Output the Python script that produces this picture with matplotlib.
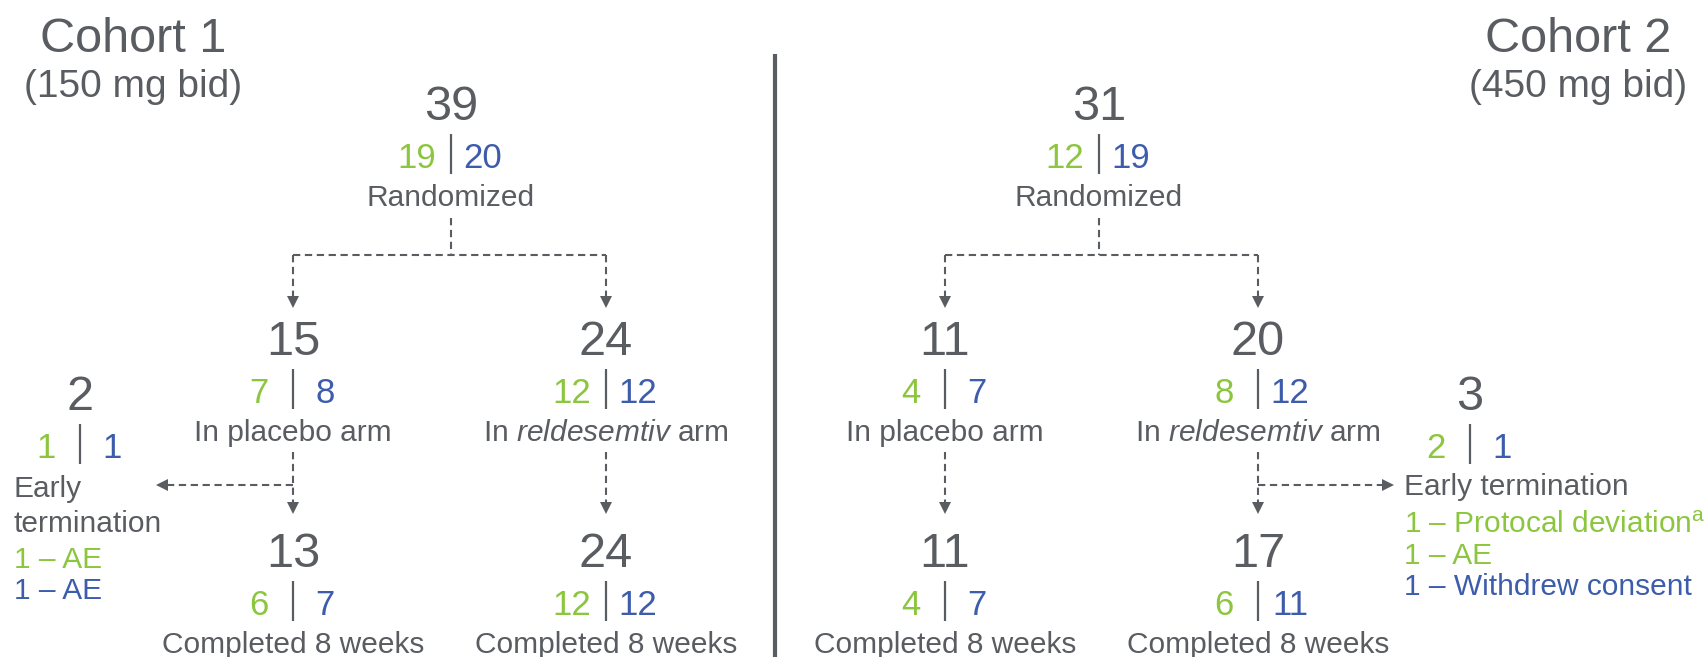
import matplotlib
matplotlib.use("Agg")
import matplotlib.pyplot as plt

plt.rcParams["font.family"] = ["Liberation Sans", "DejaVu Sans"]
plt.rcParams["mathtext.fontset"] = "custom"
plt.rcParams["mathtext.rm"] = "Liberation Sans"
plt.rcParams["mathtext.it"] = "Liberation Sans:italic"

# data
cohorts = ["Cohort 1", "Cohort 2"]
doses = ["(150 mg bid)", "(450 mg bid)"]

rand_n = [39, 31]
rand_green = [19, 12]
rand_blue = [20, 19]

placebo_n = [15, 11]
placebo_green = [7, 4]
placebo_blue = [8, 7]

active_n = [24, 20]
active_green = [12, 8]
active_blue = [12, 12]

done_placebo_n = [13, 11]
done_placebo_green = [6, 4]
done_placebo_blue = [7, 7]

done_active_n = [24, 17]
done_active_green = [12, 6]
done_active_blue = [12, 11]

et_n = [2, 3]
et_green = [1, 2]
et_blue = [1, 1]
et_labels = [["Early", "termination"], ["Early termination"]]
et_reasons = [["1 – AE", "1 – AE"],
              ["1 – Protocal deviation$^{\\mathrm{a}}$", "1 – AE", "1 – Withdrew consent"]]
et_reason_group = [["g", "b"], ["g", "g", "b"]]

placebo_label = "In placebo arm"
active_label = "In $\\it{reldesemtiv}$ arm"
rand_label = "Randomized"
done_label = "Completed 8 weeks"

GRAY = "#595c61"
GREEN = "#8cc63f"
BLUE = "#3d5cab"

# layout (pixel coords)
W, H = 1707, 657
top_x = [451, 1099]
arm_x = [[293, 606], [945, 1258]]
et_side = [0, 1]          # which arm the early termination leaves from
et_node_x = [80, 1470]
et_text_x = [14, 1404]
et_tip_x = [157, 1393]
title_x = [133, 1578]

fig = plt.figure(figsize=(W / 100, H / 100), dpi=100)
ax = fig.add_axes([0, 0, 1, 1])
ax.set_xlim(0, W)
ax.set_ylim(H, 0)
ax.axis("off")


def node(x, y, total, g, b, label=None, big=35):
    # y is the baseline of the big number
    ax.text(x, y, str(total), fontsize=big, color=GRAY, ha="center", va="baseline")
    ys = y + 48
    ax.text(x - 34, ys, str(g), fontsize=25, color=GREEN, ha="center", va="baseline")
    ax.text(x + 32, ys, str(b), fontsize=25, color=BLUE, ha="center", va="baseline")
    ax.plot([x, x], [ys - 34, ys + 6], color=GRAY, lw=1.6, solid_capstyle="butt")
    if label is not None:
        ax.text(x, ys + 38, label, fontsize=21.5, color=GRAY, ha="center", va="baseline")


def dashed(xs, ys):
    ax.plot(xs, ys, color=GRAY, lw=1.5, ls=(0, (3.5, 2.2)))


def head(x, y, d):
    mk = {"down": "v", "left": "<", "right": ">"}[d]
    dx = {"down": 0, "left": 5, "right": -5}[d]
    dy = {"down": -5, "left": 0, "right": 0}[d]
    ax.plot(x + dx, y + dy, marker=mk, ms=9, color=GRAY, mec=GRAY, mew=0)


for i in range(2):
    ax.text(title_x[i], 52, cohorts[i], fontsize=35, color=GRAY, ha="center", va="baseline")
    ax.text(title_x[i], 97, doses[i], fontsize=28, color=GRAY, ha="center", va="baseline")

    node(top_x[i], 120, rand_n[i], rand_green[i], rand_blue[i], rand_label)
    xl, xr = arm_x[i]
    dashed([top_x[i], top_x[i]], [218, 255])
    dashed([xl, xr], [255, 255])
    for xa in (xl, xr):
        dashed([xa, xa], [255, 302])
        head(xa, 307, "down")

    node(xl, 355, placebo_n[i], placebo_green[i], placebo_blue[i], placebo_label)
    node(xr, 355, active_n[i], active_green[i], active_blue[i], active_label)

    for xa in (xl, xr):
        dashed([xa, xa], [452, 508])
        head(xa, 513, "down")

    node(xl, 567, done_placebo_n[i], done_placebo_green[i], done_placebo_blue[i], done_label)
    node(xr, 567, done_active_n[i], done_active_green[i], done_active_blue[i], done_label)

    # early termination branch
    xs = arm_x[i][et_side[i]]
    d = "left" if et_tip_x[i] < xs else "right"
    off = 5 if d == "left" else -5
    dashed([xs, et_tip_x[i] + off], [485, 485])
    head(et_tip_x[i], 485, d)

    node(et_node_x[i], 410, et_n[i], et_green[i], et_blue[i])
    y = 497 if i == 0 else 495
    for line in et_labels[i]:
        ax.text(et_text_x[i], y, line, fontsize=21.5, color=GRAY, ha="left", va="baseline")
        y += 35
    y = 568 if i == 0 else 533
    for txt, grp in zip(et_reasons[i], et_reason_group[i]):
        ax.text(et_text_x[i], y, txt, fontsize=21.5, color=GREEN if grp == "g" else BLUE,
                ha="left", va="baseline")
        y += 31

# cohort separator
ax.plot([775, 775], [54, H], color=GRAY, lw=3, solid_capstyle="butt")

fig.savefig("out.png", dpi=100, facecolor="white")
